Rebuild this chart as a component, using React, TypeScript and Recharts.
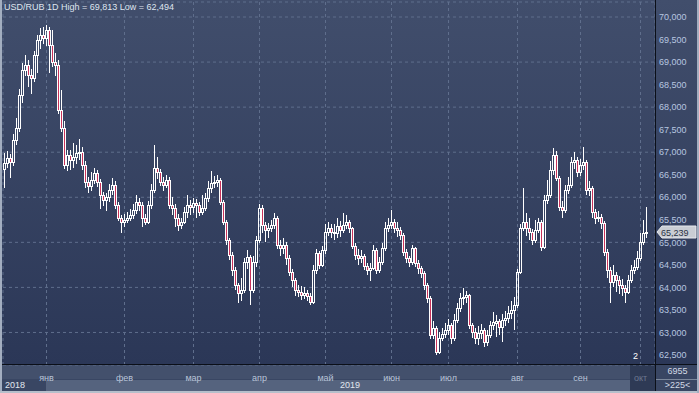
import React from 'react';
import { ComposedChart, Bar, XAxis, YAxis, CartesianGrid, ReferenceLine } from 'recharts';

const opens = [
  66.62, 66.76, 66.87, 66.78, 67.27, 67.54, 68.27, 68.82, 68.93, 68.71,
  68.65, 69.16, 69.49, 69.60, 69.53, 69.71, 69.38, 69.00, 68.93, 67.94,
  67.54, 66.72, 66.94, 66.83, 66.89, 66.98, 67.00, 66.72, 66.34, 66.25,
  66.38, 66.54, 66.34, 66.05, 65.94, 66.00, 66.16, 66.27, 65.83, 65.54,
  65.45, 65.50, 65.54, 65.60, 65.72, 65.89, 65.83, 65.54, 65.45, 65.83,
  66.16, 66.65, 66.56, 66.34, 66.27, 66.38, 65.83, 65.76, 65.54, 65.38,
  65.45, 65.67, 65.83, 65.78, 65.87, 65.83, 65.67, 65.76, 65.98, 66.20,
  66.32, 66.34, 66.38, 65.89, 65.45, 65.05, 64.72, 64.39, 64.05, 63.87,
  63.94, 64.56, 64.67, 63.94, 64.56, 65.05, 65.76, 65.38, 65.27, 65.31,
  65.38, 65.54, 64.94, 64.87, 64.94, 64.65, 64.34, 64.16, 63.94, 63.90,
  63.83, 63.87, 63.81, 63.67, 64.39, 64.76, 64.49, 64.83, 65.23, 65.31,
  65.23, 65.20, 65.36, 65.27, 65.38, 65.45, 65.31, 64.92, 64.72, 64.65,
  64.70, 64.47, 64.39, 64.43, 64.83, 64.39, 64.56, 64.87, 65.31, 65.38,
  65.45, 65.31, 65.27, 65.16, 64.78, 64.65, 64.56, 64.87, 64.54, 64.43,
  64.32, 64.05, 63.76, 62.94, 63.10, 62.57, 62.88, 62.96, 63.05, 63.16,
  62.88, 63.28, 63.54, 63.76, 63.79, 63.83, 63.16, 63.00, 62.88, 62.98,
  63.05, 62.79, 62.94, 63.16, 63.20, 63.26, 63.12, 63.28, 63.32, 63.43,
  63.50, 63.61, 64.34, 65.32, 65.45, 65.31, 65.23, 65.05, 65.27, 65.45,
  64.89, 65.94, 66.05, 66.60, 66.94, 66.43, 65.78, 65.72, 66.16, 66.27,
  66.78, 66.83, 66.56, 66.72, 66.78, 66.16, 66.20, 65.67, 65.54, 65.56,
  65.43, 64.79, 64.39, 64.12, 64.27, 64.16, 64.05, 63.98, 63.90, 64.16,
  64.39, 64.45, 64.65, 65.01, 65.21,
];

const closes = [
  66.76, 66.87, 66.78, 67.27, 67.54, 68.27, 68.82, 68.93, 68.71, 68.65,
  69.16, 69.49, 69.60, 69.53, 69.71, 69.38, 69.00, 68.93, 67.94, 67.54,
  66.72, 66.94, 66.83, 66.89, 66.98, 67.00, 66.72, 66.34, 66.25, 66.38,
  66.54, 66.34, 66.05, 65.94, 66.00, 66.16, 66.27, 65.83, 65.54, 65.45,
  65.50, 65.54, 65.60, 65.72, 65.89, 65.83, 65.54, 65.45, 65.83, 66.16,
  66.65, 66.56, 66.34, 66.27, 66.38, 65.83, 65.76, 65.54, 65.38, 65.45,
  65.67, 65.83, 65.78, 65.87, 65.83, 65.67, 65.76, 65.98, 66.20, 66.32,
  66.34, 66.38, 65.89, 65.45, 65.05, 64.72, 64.39, 64.05, 63.87, 63.94,
  64.56, 64.67, 63.94, 64.56, 65.05, 65.76, 65.38, 65.27, 65.31, 65.38,
  65.54, 64.94, 64.87, 64.94, 64.65, 64.34, 64.16, 63.94, 63.90, 63.83,
  63.87, 63.81, 63.67, 64.39, 64.76, 64.49, 64.83, 65.23, 65.31, 65.23,
  65.20, 65.36, 65.27, 65.38, 65.45, 65.31, 64.92, 64.72, 64.65, 64.70,
  64.47, 64.39, 64.43, 64.83, 64.39, 64.56, 64.87, 65.31, 65.38, 65.45,
  65.31, 65.27, 65.16, 64.78, 64.65, 64.56, 64.87, 64.54, 64.43, 64.32,
  64.05, 63.76, 62.94, 63.10, 62.57, 62.88, 62.96, 63.05, 63.16, 62.88,
  63.28, 63.54, 63.76, 63.79, 63.83, 63.16, 63.00, 62.88, 62.98, 63.05,
  62.79, 62.94, 63.16, 63.23, 63.26, 63.12, 63.28, 63.32, 63.43, 63.50,
  63.61, 64.34, 65.32, 65.45, 65.31, 65.23, 65.05, 65.27, 65.45, 64.89,
  65.94, 66.05, 66.60, 66.94, 66.43, 65.78, 65.72, 66.16, 66.27, 66.78,
  66.83, 66.56, 66.72, 66.78, 66.16, 66.20, 65.67, 65.54, 65.56, 65.43,
  64.79, 64.39, 64.12, 64.27, 64.16, 64.05, 63.98, 63.90, 64.16, 64.39,
  64.45, 64.65, 65.01, 65.21, 65.239,
];

const highs = [
  66.98, 67.02, 66.95, 67.40, 67.75, 68.40, 68.98, 69.15, 69.05, 68.85,
  69.25, 69.60, 69.75, 69.78, 69.813, 69.78, 69.72, 69.20, 69.05, 68.38,
  67.70, 67.05, 67.05, 67.20, 67.15, 67.30, 67.12, 66.80, 66.45, 66.55,
  66.65, 66.60, 66.40, 66.12, 66.10, 66.30, 66.42, 66.35, 65.90, 65.60,
  65.62, 65.68, 65.74, 65.85, 66.05, 65.98, 65.90, 65.62, 65.92, 66.30,
  67.15, 66.90, 66.62, 66.45, 66.50, 66.45, 66.00, 65.85, 65.62, 65.55,
  65.78, 66.05, 65.95, 65.98, 65.96, 65.90, 66.05, 66.10, 66.35, 66.58,
  66.48, 66.50, 66.42, 65.95, 65.50, 65.10, 64.78, 64.45, 64.10, 64.20,
  64.65, 64.82, 64.72, 64.70, 65.15, 65.85, 65.82, 65.45, 65.42, 65.50,
  65.65, 65.58, 65.05, 65.10, 65.00, 64.72, 64.40, 64.20, 64.05, 64.02,
  64.00, 63.95, 63.88, 64.50, 64.85, 64.80, 64.92, 65.40, 65.45, 65.40,
  65.40, 65.55, 65.48, 65.65, 65.60, 65.50, 65.35, 64.98, 64.85, 64.82,
  64.75, 64.55, 64.55, 64.95, 64.88, 64.68, 64.98, 65.45, 65.55, 65.72,
  65.52, 65.45, 65.35, 65.20, 64.85, 64.70, 64.95, 64.90, 64.60, 64.48,
  64.36, 64.10, 63.80, 63.25, 63.15, 63.00, 63.10, 63.20, 63.30, 63.22,
  63.40, 63.65, 63.88, 63.98, 63.92, 63.86, 63.22, 63.10, 63.15, 63.18,
  63.10, 63.05, 63.25, 63.45, 63.38, 63.30, 63.42, 63.48, 63.58, 63.70,
  63.78, 64.40, 65.40, 66.20, 65.65, 65.55, 65.30, 65.50, 65.55, 65.50,
  66.05, 66.38, 66.80, 67.10, 67.02, 66.48, 65.92, 66.28, 66.45, 66.90,
  67.00, 66.90, 66.85, 67.12, 66.82, 66.35, 66.25, 65.75, 65.70, 65.62,
  65.48, 64.85, 64.45, 64.50, 64.35, 64.25, 64.18, 64.05, 64.28, 64.50,
  64.60, 64.80, 65.20, 65.50, 65.78,
];

const lows = [
  66.20, 66.66, 66.42, 66.70, 67.15, 67.45, 68.10, 68.70, 68.45, 68.30,
  68.55, 68.75, 69.30, 69.40, 69.35, 68.75, 68.90, 68.70, 67.85, 67.45,
  66.62, 66.58, 66.60, 66.66, 66.74, 66.82, 66.60, 66.20, 66.10, 66.15,
  66.30, 66.22, 65.75, 65.80, 65.70, 65.90, 66.05, 65.75, 65.48, 65.20,
  65.35, 65.42, 65.48, 65.52, 65.62, 65.70, 65.35, 65.38, 65.40, 65.75,
  66.10, 66.40, 66.25, 66.15, 66.20, 65.75, 65.60, 65.35, 65.25, 65.30,
  65.40, 65.55, 65.60, 65.65, 65.55, 65.58, 65.60, 65.70, 65.90, 66.10,
  66.20, 66.22, 65.82, 65.38, 64.95, 64.60, 64.25, 63.95, 63.65, 63.70,
  63.88, 64.40, 63.62, 63.88, 64.45, 64.98, 65.20, 65.00, 65.10, 65.22,
  65.30, 64.85, 64.70, 64.75, 64.50, 64.25, 64.00, 63.82, 63.78, 63.72,
  63.75, 63.70, 63.62, 63.64, 64.30, 64.40, 64.45, 64.75, 65.15, 65.10,
  65.05, 65.10, 65.12, 65.20, 65.30, 65.20, 64.85, 64.60, 64.50, 64.55,
  64.38, 64.28, 64.15, 64.38, 64.30, 64.33, 64.50, 64.80, 65.22, 65.30,
  65.20, 65.12, 65.05, 64.70, 64.55, 64.45, 64.50, 64.45, 64.30, 64.20,
  63.95, 63.65, 62.85, 62.85, 62.494, 62.52, 62.80, 62.88, 62.95, 62.75,
  62.82, 63.20, 63.45, 63.62, 63.66, 63.08, 62.88, 62.75, 62.72, 62.85,
  62.68, 62.70, 62.88, 63.05, 62.90, 62.95, 62.78, 63.15, 63.20, 63.30,
  63.05, 63.55, 64.30, 65.25, 65.15, 65.05, 64.95, 64.98, 65.20, 64.80,
  64.85, 65.85, 65.98, 66.50, 66.35, 65.70, 65.55, 65.65, 66.08, 66.20,
  66.62, 66.45, 66.48, 66.60, 66.05, 66.02, 65.55, 65.40, 65.45, 65.30,
  64.70, 64.20, 63.65, 64.00, 63.90, 63.85, 63.80, 63.65, 63.85, 64.10,
  64.30, 64.38, 64.58, 64.95, 65.10,
];

// index of the first candle of each month on the time axis
const monthTicks = [14, 40, 63, 85, 107, 129, 148, 171, 192, 212];
const monthNames = ['янв', 'фев', 'мар', 'апр', 'май', 'июн', 'июл', 'авг', 'сен', 'окт'];
const priceTicks = [62.5, 63, 63.5, 64, 64.5, 65, 65.5, 66, 66.5, 67, 67.5, 68, 68.5, 69, 69.5, 70];
const periodHigh = 69.813;
const periodLow = 62.494;
const lastPrice = 65.239;

const data = closes.map((c, i) => ({ idx: i, o: opens[i], h: highs[i], l: lows[i], c }));

const FONT = '"Liberation Sans", Arial, sans-serif';
const fmt = (v: number) => v.toFixed(3).replace('.', ',');

const Candle = (props: any) => {
  const { x, y, width, height, payload } = props;
  if (!payload || height == null || isNaN(y)) return null;
  const top = Math.min(y, y + height);
  const span = Math.abs(height);
  const k = span / (payload.h - payload.l);
  const py = (v: number) => top + (payload.h - v) * k;
  const cx = Math.floor(x + width / 2) + 0.5;
  const bear = payload.c < payload.o;
  const bTop = Math.round(py(Math.max(payload.o, payload.c))) + 0.5;
  let bBot = Math.round(py(Math.min(payload.o, payload.c))) + 0.5;
  if (bBot - bTop < 1) bBot = bTop + 1;
  const wTop = Math.round(top);
  const wBot = Math.round(top + span);
  return (
    <g>
      <line x1={cx} x2={cx} y1={wTop} y2={bTop} stroke="#ffffff" strokeWidth={1} />
      <line x1={cx} x2={cx} y1={bBot} y2={wBot} stroke="#ffffff" strokeWidth={1} />
      <rect
        x={cx - 1}
        y={bTop}
        width={2}
        height={bBot - bTop}
        fill={bear ? '#c8325a' : 'none'}
        stroke="#ffffff"
        strokeWidth={1}
      />
    </g>
  );
};

const PriceTag = (props: any) => {
  const vb = props.viewBox;
  if (!vb) return null;
  const x0 = vb.x + vb.width;
  const yc = Math.round(vb.y);
  return (
    <g>
      <polygon
        points={`${x0 + 2},${yc} ${x0 + 7},${yc - 6} ${x0 + 41},${yc - 6} ${x0 + 41},${yc + 6} ${x0 + 7},${yc + 6}`}
        fill="#c9cdd4"
        stroke="#e6e9ee"
        strokeWidth={1}
      />
      <text x={x0 + 6} y={yc + 3.5} fontSize={9} fontFamily={FONT} fill="#2a3244">
        {fmt(lastPrice)}
      </text>
    </g>
  );
};

const MonthTick = (props: any) => {
  const { x, y, payload } = props;
  const i = monthTicks.indexOf(payload.value);
  const last = i === monthTicks.length - 1;
  return (
    <text x={x} y={y + 8} textAnchor="middle" fontSize={9} fontFamily={FONT} fill={last ? '#6d7890' : '#b9c4d8'}>
      {monthNames[i]}
    </text>
  );
};

const abs = (s: React.CSSProperties): React.CSSProperties => ({ position: 'absolute', ...s });

export default function App() {
  return (
    <div style={abs({ left: 0, top: 0, width: 699, height: 393, overflow: 'hidden', background: '#3a4763', fontFamily: FONT })}>
      <div style={abs({ left: 0, top: 0, width: 699, height: 364, background: 'linear-gradient(180deg, #414e6c 0%, #2b3757 100%)' })} />
      <div style={abs({ left: 0, top: 365, width: 655, height: 14, background: '#43506c' })} />
      <div style={abs({ left: 0, top: 379, width: 655, height: 14, background: '#394663' })} />
      <div style={abs({ left: 46, top: 380, width: 584, height: 11, background: '#55637e' })} />
      <div style={abs({ left: 630, top: 365, width: 25, height: 28, background: '#2e3a55' })} />
      <div style={abs({ left: 656, top: 365, width: 43, height: 28, background: '#394663' })} />

      <div style={abs({ left: 0, top: 0 })}>
        <ComposedChart
          width={699}
          height={393}
          data={data}
          margin={{ top: 2, right: 0, bottom: 0, left: 3 }}
          barCategoryGap={0}
          barGap={0}
        >
          <CartesianGrid stroke="#5f6e8c" strokeDasharray="3 3" />
          <XAxis
            dataKey="idx"
            type="category"
            ticks={monthTicks}
            interval={0}
            tick={<MonthTick />}
            tickLine={false}
            axisLine={false}
            height={28}
            padding={{ left: 0, right: 7 }}
          />
          <YAxis
            orientation="right"
            type="number"
            domain={[62.278, 70.333]}
            allowDataOverflow
            ticks={priceTicks}
            tickFormatter={fmt}
            tick={{ fill: '#b7c6e0', fontSize: 9, fontFamily: FONT }}
            tickLine={false}
            axisLine={false}
            tickSize={0}
            tickMargin={4}
            width={44}
          />
          <Bar dataKey={(d: any) => [d.l, d.h]} shape={(p: any) => <Candle {...p} />} isAnimationActive={false} />
          <ReferenceLine y={lastPrice} stroke="none" label={(p: any) => <PriceTag {...p} />} />
        </ComposedChart>
      </div>

      <div style={abs({ left: 655, top: 0, width: 1, height: 393, background: '#0b0f18' })} />
      <div style={abs({ left: 0, top: 364, width: 699, height: 1, background: '#0b0f18' })} />
      <div style={abs({ left: 656, top: 379, width: 43, height: 1, background: '#7c889c' })} />
      <div style={abs({ left: 0, top: 0, width: 2, height: 393, background: '#a3aec0' })} />
      <div style={abs({ left: 0, top: 391, width: 699, height: 2, background: '#b6bfcb' })} />
      <div style={abs({ left: 697, top: 0, width: 2, height: 393, background: '#a3aec0' })} />

      <div style={abs({ left: 4, top: 2, fontSize: 9, color: '#dfe5ef', whiteSpace: 'nowrap' })}>
        {`USD/RUB 1D High = ${fmt(periodHigh)} Low = ${fmt(periodLow)}`}
      </div>
      <div style={abs({ left: 5, top: 380, fontSize: 9, color: '#e2e7ef' })}>2018</div>
      <div style={abs({ left: 340, top: 380, fontSize: 9, color: '#e2e7ef' })}>2019</div>
      <div style={abs({ left: 633, top: 351, fontSize: 9, color: '#ffffff' })}>2</div>
      <div style={abs({ left: 656, top: 366, width: 43, textAlign: 'center', fontSize: 9, color: '#d3dae6' })}>6955</div>
      <div style={abs({ left: 656, top: 380, width: 43, textAlign: 'center', fontSize: 9, color: '#d3dae6' })}>&gt;225&lt;</div>
    </div>
  );
}
